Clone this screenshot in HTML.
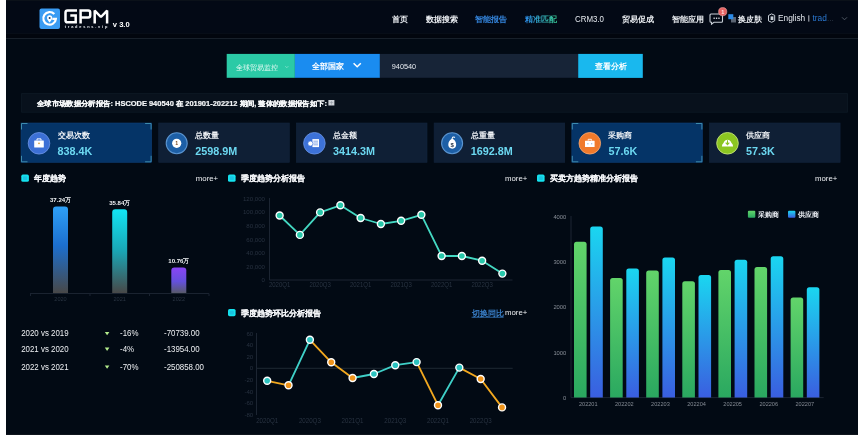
<!DOCTYPE html>
<html><head><meta charset="utf-8"><style>
html,body{margin:0;padding:0;background:#ffffff;width:863px;height:435px;overflow:hidden;font-family:"Liberation Sans", sans-serif;}
#app{position:absolute;left:6px;top:0;width:852px;height:435px;background:#020a14;}
#hdr{position:absolute;left:6px;top:0;width:852px;height:38px;background:linear-gradient(#0b1119 0,#0b1119 1px,#030915 1px,#030915 33px,#070d17 33px,#070d17 34px,#02060e 34px);border-bottom:1px solid #18202a;}
#bl{position:absolute;left:6px;top:434px;width:852px;height:1px;background:#0f151d;}
svg{position:absolute;left:0;top:0;will-change:transform;}
svg text{font-family:"Liberation Sans", sans-serif;}
</style></head><body>
<div id="app"></div><div id="hdr"></div><div id="bl"></div>
<svg width="863" height="435" viewBox="0 0 863 435">
<defs>
<linearGradient id="gnav" x1="0" y1="0" x2="1" y2="0"><stop offset="0" stop-color="#2a86e6"/><stop offset="1" stop-color="#36c48c"/></linearGradient>
<linearGradient id="gb1" x1="0" y1="0" x2="0" y2="1"><stop offset="0" stop-color="#2ea0f6"/><stop offset="0.45" stop-color="#1c6fcf"/><stop offset="1" stop-color="#484848"/></linearGradient>
<linearGradient id="gb2" x1="0" y1="0" x2="0" y2="1"><stop offset="0" stop-color="#12e6f4"/><stop offset="0.5" stop-color="#1aa5b4"/><stop offset="1" stop-color="#484848"/></linearGradient>
<linearGradient id="gb3" x1="0" y1="0" x2="0" y2="1"><stop offset="0" stop-color="#8a44f6"/><stop offset="0.55" stop-color="#6450dc"/><stop offset="1" stop-color="#585a6a"/></linearGradient>
<linearGradient id="gg" x1="0" y1="0" x2="0" y2="1"><stop offset="0" stop-color="#62d46a"/><stop offset="1" stop-color="#2aa860"/></linearGradient>
<linearGradient id="gbl" x1="0" y1="0" x2="0" y2="1"><stop offset="0" stop-color="#1ad6f0"/><stop offset="1" stop-color="#3a5ee0"/></linearGradient>
</defs>
<rect x="39.5" y="8.5" width="20.5" height="20.5" rx="2" fill="#3a9cf3"/><path d="M54.3 14.1 A6.3 6.3 0 1 0 55.9 18.9 H52.3" fill="none" stroke="#fff" stroke-width="2.2"/><path d="M49.6 15.3 a2.6 2.6 0 0 1 2.6 2.6 c0 1.6 -1.6 3 -2.6 4.6 c-1 -1.6 -2.6 -3 -2.6 -4.6 a2.6 2.6 0 0 1 2.6 -2.6 z" fill="#fff"/><circle cx="49.6" cy="17.9" r="1" fill="#1d3f66"/><g fill="none" stroke="#ffffff" stroke-width="2.5"><path d="M77 10.6 H67.6 Q65.5 10.6 65.5 12.7 V20.2 Q65.5 22.3 67.6 22.3 H75.7 V15.4 H70.3"/><path d="M80.6 23.5 V10.6 H88.2 Q90.2 10.6 90.2 12.6 V15.5 Q90.2 17.5 88.2 17.5 H80.6"/><path d="M94.7 23.5 V10.6 L100.9 17 L107.1 10.6 V23.5" stroke-linejoin="bevel"/></g><text x="64.8" y="28.4" font-size="3.9" fill="#e8ebef" font-weight="bold" text-anchor="start" textLength="42.5" lengthAdjust="spacing">tradesns.vip</text><text x="112.8" y="27.2" font-size="7.6" fill="#ffffff" font-weight="bold" text-anchor="start" >v 3.0</text><text x="392.3" y="22.4" font-size="8" fill="#eceff3" font-weight="600" text-anchor="start" >首页</text><text x="425.8" y="22.4" font-size="8" fill="#eceff3" font-weight="600" text-anchor="start" >数据搜索</text><text x="475.4" y="22.4" font-size="8" fill="#3587e0" font-weight="600" text-anchor="start" >智能报告</text><text x="525" y="22.4" font-size="8" fill="url(#gnav)" font-weight="600" text-anchor="start" >精准匹配</text><text x="575" y="22.4" font-size="8.2" fill="#e4e8ee" font-weight="normal" text-anchor="start" textLength="29" lengthAdjust="spacingAndGlyphs">CRM3.0</text><text x="622" y="22.4" font-size="8" fill="#eceff3" font-weight="600" text-anchor="start" >贸易促成</text><text x="671.8" y="22.4" font-size="8" fill="#eceff3" font-weight="600" text-anchor="start" >智能应用</text><path d="M711 14 h10.5 a1 1 0 0 1 1 1 v6.3 a1 1 0 0 1 -1 1 h-7.5 l-2.5 1.8 v-1.8 h-0.5 a1 1 0 0 1 -1 -1 v-6.3 a1 1 0 0 1 1 -1 z" fill="none" stroke="#c9d0d8" stroke-width="1.1"/><g fill="#e8ecf0"><rect x="713.5" y="17.6" width="1.3" height="1.3"/><rect x="715.9" y="17.6" width="1.3" height="1.3"/><rect x="718.3" y="17.6" width="1.3" height="1.3"/></g><circle cx="722.7" cy="11.7" r="4.1" fill="#e56464" stroke="#f0a6a6" stroke-width="0.6"/><text x="722.7" y="13.8" font-size="5.5" fill="#ffe0e0" font-weight="bold" text-anchor="middle" >1</text><rect x="731" y="17" width="5" height="5.5" fill="#5b6472"/><rect x="728.3" y="14.2" width="5" height="5" fill="#2d8be6"/><text x="738" y="22.4" font-size="8" fill="#eceff3" font-weight="600" text-anchor="start" >换皮肤</text><path d="M768.5 15.5 l3 -1.6 l3.2 1.4 v5.4 l-3 1.6 l-3.2 -1.4 z" fill="none" stroke="#c9d0d8" stroke-width="1"/><rect x="770.6" y="16.4" width="2.8" height="3.6" fill="#c9d0d8"/><text x="778" y="21.2" font-size="8.3" fill="#e4e8ee" font-weight="normal" text-anchor="start" >English</text><rect x="808.3" y="15.3" width="1" height="6.3" fill="#b9bec6"/><text x="812.5" y="21.2" font-size="8.3" fill="#2b79d2" font-weight="normal" text-anchor="start" >trad</text><text x="827" y="21.2" font-size="8.3" fill="#2a3340" font-weight="normal" text-anchor="start" >...</text><path d="M842 17.3 l2.5 2.5 l2.5 -2.5" fill="none" stroke="#59626e" stroke-width="0.9"/><rect x="226.7" y="53.9" width="68.2" height="23.9" fill="#2bcaa6"/><text x="235.7" y="69.5" font-size="7.2" fill="#e9fbf6" font-weight="normal" text-anchor="start" >全球贸易监控</text><path d="M285.3 66.2 l1.5 1.5 l1.5 -1.5" fill="none" stroke="#9ae8d6" stroke-width="0.7"/><rect x="294.9" y="53.9" width="85" height="23.9" fill="#1a8cf0"/><text x="311.7" y="68.6" font-size="8" fill="#ffffff" font-weight="bold" text-anchor="start" >全部国家</text><path d="M353.6 63.2 l3.6 3.6 l3.6 -3.6" fill="none" stroke="#ffffff" stroke-width="1.5"/><rect x="379.9" y="53.9" width="198.3" height="23.9" fill="#172437"/><text x="391.8" y="69.3" font-size="7.3" fill="#e6eaf0" font-weight="normal" text-anchor="start" >940540</text><rect x="578.2" y="53.9" width="64.6" height="24" fill="#19b8ee"/><text x="610.5" y="68.9" font-size="7.8" fill="#ffffff" font-weight="bold" text-anchor="middle" >查看分析</text><rect x="21.6" y="93.6" width="826" height="18.6" fill="#08111c" stroke="#0e1925" stroke-width="0.8"/><text x="37" y="105.8" font-size="7.1" fill="#f4f6f8" font-weight="bold" text-anchor="start" textLength="290" lengthAdjust="spacingAndGlyphs" stroke="#f4f6f8" stroke-width="0.22">全球市场数据分析报告: HSCODE 940540 在 201901-202212 期间, 整体的数据报告如下: </text><rect x="328.4" y="100" width="6" height="5.5" fill="#cdd2d8"/><g fill="#8a929c"><rect x="329.8" y="102.4" width="3.4" height="0.5"/><rect x="331.2" y="101" width="0.5" height="3.6"/></g><rect x="21" y="123" width="130.6" height="39.3" fill="#053467" stroke="#0e4078" stroke-width="0.6"/><path d="M21.5 129.5 V123.5 H27.5" fill="none" stroke="#3f8fb2" stroke-width="0.95"/><path d="M151.1 129.5 V123.5 H145.1" fill="none" stroke="#3f8fb2" stroke-width="0.95"/><path d="M21.5 155.8 V161.8 H27.5" fill="none" stroke="#3f8fb2" stroke-width="0.95"/><path d="M151.1 155.8 V161.8 H145.1" fill="none" stroke="#3f8fb2" stroke-width="0.95"/><text x="57.6" y="137.6" font-size="8" fill="#eef1f5" font-weight="600" text-anchor="start" >交易次数</text><text x="57.6" y="154.7" font-size="10.8" fill="#6cd8f1" font-weight="bold" text-anchor="start" >838.4K</text><rect x="158.7" y="123" width="130.6" height="39.3" fill="#0f1f35" stroke="#13253c" stroke-width="0.6"/><text x="195.29999999999998" y="137.6" font-size="8" fill="#eef1f5" font-weight="600" text-anchor="start" >总数量</text><text x="195.29999999999998" y="154.7" font-size="10.8" fill="#6cd8f1" font-weight="bold" text-anchor="start" >2598.9M</text><rect x="296.4" y="123" width="130.6" height="39.3" fill="#0f1f35" stroke="#13253c" stroke-width="0.6"/><text x="333.0" y="137.6" font-size="8" fill="#eef1f5" font-weight="600" text-anchor="start" >总金额</text><text x="333.0" y="154.7" font-size="10.8" fill="#6cd8f1" font-weight="bold" text-anchor="start" >3414.3M</text><rect x="434.1" y="123" width="130.6" height="39.3" fill="#0f1f35" stroke="#13253c" stroke-width="0.6"/><text x="470.70000000000005" y="137.6" font-size="8" fill="#eef1f5" font-weight="600" text-anchor="start" >总重量</text><text x="470.70000000000005" y="154.7" font-size="10.8" fill="#6cd8f1" font-weight="bold" text-anchor="start" >1692.8M</text><rect x="571.8" y="123" width="130.6" height="39.3" fill="#053467" stroke="#0e4078" stroke-width="0.6"/><path d="M572.3 129.5 V123.5 H578.3" fill="none" stroke="#3f8fb2" stroke-width="0.95"/><path d="M701.9 129.5 V123.5 H695.9" fill="none" stroke="#3f8fb2" stroke-width="0.95"/><path d="M572.3 155.8 V161.8 H578.3" fill="none" stroke="#3f8fb2" stroke-width="0.95"/><path d="M701.9 155.8 V161.8 H695.9" fill="none" stroke="#3f8fb2" stroke-width="0.95"/><text x="608.4" y="137.6" font-size="8" fill="#eef1f5" font-weight="600" text-anchor="start" >采购商</text><text x="608.4" y="154.7" font-size="10.8" fill="#6cd8f1" font-weight="bold" text-anchor="start" >57.6K</text><rect x="709.5" y="123" width="130.6" height="39.3" fill="#0f1f35" stroke="#13253c" stroke-width="0.6"/><text x="746.1" y="137.6" font-size="8" fill="#eef1f5" font-weight="600" text-anchor="start" >供应商</text><text x="746.1" y="154.7" font-size="10.8" fill="#6cd8f1" font-weight="bold" text-anchor="start" >57.3K</text><circle cx="39" cy="143.3" r="10.8" fill="#3c70d6" stroke="#6f96e6" stroke-width="0.8"/><rect x="34.2" y="140.5" width="9.6" height="7" fill="#fff" rx="0.5"/><path d="M37 140.5 v-1.6 h4 v1.6" fill="none" stroke="#fff" stroke-width="1"/><circle cx="39" cy="143.3" r="0.9" fill="#d8a040"/><circle cx="176.7" cy="143.3" r="10.5" fill="#1d5fa6" stroke="#5a94d0" stroke-width="1.1"/><circle cx="176.7" cy="143.3" r="4.6" fill="#fff"/><text x="176.7" y="145.20000000000002" font-size="5.2" font-weight="bold" fill="#7a4a22" text-anchor="middle">1</text><circle cx="314.4" cy="143.3" r="10.8" fill="#3d72d8" stroke="#6a94e4" stroke-width="0.8"/><rect x="312.4" y="139.10000000000002" width="6.6" height="8" fill="#fff"/><g fill="#3d72d8"><rect x="313.4" y="140.8" width="4.6" height="0.6"/><rect x="313.4" y="142.70000000000002" width="4.6" height="0.6"/><rect x="313.4" y="144.60000000000002" width="4.6" height="0.6"/></g><circle cx="310.4" cy="143.60000000000002" r="2.5" fill="#fff" stroke="#3d72d8" stroke-width="0.6"/><circle cx="452.1" cy="143.3" r="10.5" fill="#1d5fa6" stroke="#5a94d0" stroke-width="1.1"/><path d="M451.5 139.10000000000002 C447.3 141.5 446.90000000000003 148.70000000000002 452.3 148.70000000000002 C457.5 148.70000000000002 457.1 141.5 453.0 139.10000000000002 Z" fill="#fff"/><path d="M451.90000000000003 139.10000000000002 l0.8 -1.8 q1.2 -0.8 2.2 0.2" fill="none" stroke="#fff" stroke-width="1.1"/><text x="452.20000000000005" y="146.60000000000002" font-size="6" font-weight="bold" fill="#1a2a40" text-anchor="middle">$</text><circle cx="589.8" cy="143.3" r="10.8" fill="#f07a2b" stroke="#f6a872" stroke-width="0.8"/><rect x="585.0" y="140.70000000000002" width="9.6" height="6.4" fill="#fff" rx="0.4"/><path d="M588.1999999999999 140.70000000000002 v-1.4 h3.2 v1.4" fill="none" stroke="#fff" stroke-width="0.9"/><g fill="#7a96c0"><rect x="587.4" y="143.3" width="1" height="1"/><rect x="591.1999999999999" y="143.3" width="1" height="1"/></g><circle cx="727.5" cy="143.3" r="10.8" fill="#8cc621" stroke="#c4e27a" stroke-width="0.9"/><path d="M721.9 146.5 Q721.9 144.10000000000002 723.5 142.9 Q724.9 139.70000000000002 727.5 139.70000000000002 Q730.1 139.70000000000002 731.5 142.9 Q733.1 144.10000000000002 733.1 146.5 Z" fill="#fff"/><path d="M727.5 140.3 V144.70000000000002 M725.7 142.70000000000002 L727.5 144.70000000000002 L729.3 142.70000000000002" fill="none" stroke="#8cc621" stroke-width="1.1"/><rect x="21.3" y="174.6" width="7.6" height="7.2" rx="1.6" fill="#14e2ee"/><rect x="23.0" y="176.29999999999998" width="4.2" height="3.8" rx="0.8" fill="#1cb6dc" opacity="0.7"/><text x="33.8" y="181.1" font-size="8" fill="#f2f4f7" font-weight="bold" text-anchor="start" stroke="#f2f4f7" stroke-width="0.15">年度趋势</text><text x="195.8" y="180.89999999999998" font-size="7.8" fill="#eef0f3" font-weight="normal" text-anchor="start" >more+</text><rect x="228" y="174.6" width="7.6" height="7.2" rx="1.6" fill="#14e2ee"/><rect x="229.7" y="176.29999999999998" width="4.2" height="3.8" rx="0.8" fill="#1cb6dc" opacity="0.7"/><text x="240.5" y="181.1" font-size="8" fill="#f2f4f7" font-weight="bold" text-anchor="start" stroke="#f2f4f7" stroke-width="0.15">季度趋势分析报告</text><text x="505" y="180.89999999999998" font-size="7.8" fill="#eef0f3" font-weight="normal" text-anchor="start" >more+</text><rect x="228" y="309.0" width="7.6" height="7.2" rx="1.6" fill="#14e2ee"/><rect x="229.7" y="310.70000000000005" width="4.2" height="3.8" rx="0.8" fill="#1cb6dc" opacity="0.7"/><text x="240.5" y="315.5" font-size="8" fill="#f2f4f7" font-weight="bold" text-anchor="start" stroke="#f2f4f7" stroke-width="0.15">季度趋势环比分析报告</text><text x="505" y="315.3" font-size="7.8" fill="#eef0f3" font-weight="normal" text-anchor="start" >more+</text><text x="471.6" y="315.8" font-size="7.8" fill="#3a80ca" font-weight="600" text-anchor="start" text-decoration="underline">切换同比</text><rect x="537" y="174.6" width="7.6" height="7.2" rx="1.6" fill="#14e2ee"/><rect x="538.7" y="176.29999999999998" width="4.2" height="3.8" rx="0.8" fill="#1cb6dc" opacity="0.7"/><text x="549.5" y="181.1" font-size="8" fill="#f2f4f7" font-weight="bold" text-anchor="start" stroke="#f2f4f7" stroke-width="0.15">买卖方趋势精准分析报告</text><text x="815" y="180.89999999999998" font-size="7.8" fill="#eef0f3" font-weight="normal" text-anchor="start" >more+</text><line x1="30" y1="293.5" x2="209" y2="293.5" stroke="#1a2330" stroke-width="1"/><line x1="30.5" y1="293.5" x2="30.5" y2="296" stroke="#1a2330" stroke-width="1"/><line x1="90" y1="293.5" x2="90" y2="296" stroke="#1a2330" stroke-width="1"/><line x1="149.5" y1="293.5" x2="149.5" y2="296" stroke="#1a2330" stroke-width="1"/><line x1="209" y1="293.5" x2="209" y2="296" stroke="#1a2330" stroke-width="1"/><path d="M53 293 V209.4 a3 3 0 0 1 3 -3 h9 a3 3 0 0 1 3 3 V293 Z" fill="url(#gb1)"/><text x="60.5" y="202.20000000000002" font-size="6.2" fill="#f2f4f6" font-weight="bold" text-anchor="middle" textLength="21" lengthAdjust="spacingAndGlyphs">37.24万</text><text x="60.5" y="301.2" font-size="5.6" fill="#2a3442" font-weight="normal" text-anchor="middle" >2020</text><path d="M112.2 293 V212.3 a3 3 0 0 1 3 -3 h9 a3 3 0 0 1 3 3 V293 Z" fill="url(#gb2)"/><text x="119.7" y="205.10000000000002" font-size="6.2" fill="#f2f4f6" font-weight="bold" text-anchor="middle" textLength="21" lengthAdjust="spacingAndGlyphs">35.84万</text><text x="119.7" y="301.2" font-size="5.6" fill="#2a3442" font-weight="normal" text-anchor="middle" >2021</text><path d="M171.3 293 V270.4 a3 3 0 0 1 3 -3 h9 a3 3 0 0 1 3 3 V293 Z" fill="url(#gb3)"/><text x="178.8" y="263.2" font-size="6.2" fill="#f2f4f6" font-weight="bold" text-anchor="middle" textLength="21" lengthAdjust="spacingAndGlyphs">10.76万</text><text x="178.8" y="301.2" font-size="5.6" fill="#2a3442" font-weight="normal" text-anchor="middle" >2022</text><text transform="translate(21.2 336.2) scale(1 1.25)" font-size="7.9" fill="#eef0f3" font-weight="normal" text-anchor="start" >2020 vs 2019</text><path d="M104.8 331.9 h4.6 l-2.3 3.3 z" fill="#b4ec8c"/><text transform="translate(120 336.2) scale(1 1.25)" font-size="7.9" fill="#eef0f3" font-weight="normal" text-anchor="start" >-16%</text><text transform="translate(164 336.2) scale(1 1.25)" font-size="7.9" fill="#eef0f3" font-weight="normal" text-anchor="start" >-70739.00</text><text transform="translate(21.2 351.9) scale(1 1.25)" font-size="7.9" fill="#eef0f3" font-weight="normal" text-anchor="start" >2021 vs 2020</text><path d="M104.8 347.59999999999997 h4.6 l-2.3 3.3 z" fill="#b4ec8c"/><text transform="translate(120 351.9) scale(1 1.25)" font-size="7.9" fill="#eef0f3" font-weight="normal" text-anchor="start" >-4%</text><text transform="translate(164 351.9) scale(1 1.25)" font-size="7.9" fill="#eef0f3" font-weight="normal" text-anchor="start" >-13954.00</text><text transform="translate(21.2 369.7) scale(1 1.25)" font-size="7.9" fill="#eef0f3" font-weight="normal" text-anchor="start" >2022 vs 2021</text><path d="M104.8 365.4 h4.6 l-2.3 3.3 z" fill="#b4ec8c"/><text transform="translate(120 369.7) scale(1 1.25)" font-size="7.9" fill="#eef0f3" font-weight="normal" text-anchor="start" >-70%</text><text transform="translate(164 369.7) scale(1 1.25)" font-size="7.9" fill="#eef0f3" font-weight="normal" text-anchor="start" >-250858.00</text><line x1="269.5" y1="280" x2="512.5" y2="280" stroke="#1c2532" stroke-width="1"/><line x1="269.5" y1="198" x2="269.5" y2="280" stroke="#1c2532" stroke-width="1"/><text x="265" y="282.1" font-size="6.1" fill="#283240" font-weight="normal" text-anchor="end" >0</text><text x="265" y="268.5666666666667" font-size="6.1" fill="#283240" font-weight="normal" text-anchor="end" >20,000</text><text x="265" y="255.03333333333333" font-size="6.1" fill="#283240" font-weight="normal" text-anchor="end" >40,000</text><text x="265" y="241.5" font-size="6.1" fill="#283240" font-weight="normal" text-anchor="end" >60,000</text><text x="265" y="227.96666666666667" font-size="6.1" fill="#283240" font-weight="normal" text-anchor="end" >80,000</text><text x="265" y="214.43333333333334" font-size="6.1" fill="#283240" font-weight="normal" text-anchor="end" >100,000</text><text x="265" y="200.9" font-size="6.1" fill="#283240" font-weight="normal" text-anchor="end" >120,000</text><text x="279.625" y="287" font-size="6.9" fill="#2a3442" font-weight="normal" text-anchor="middle" textLength="21.5" lengthAdjust="spacingAndGlyphs">2020Q1</text><text x="320.125" y="287" font-size="6.9" fill="#2a3442" font-weight="normal" text-anchor="middle" textLength="21.5" lengthAdjust="spacingAndGlyphs">2020Q3</text><text x="360.625" y="287" font-size="6.9" fill="#2a3442" font-weight="normal" text-anchor="middle" textLength="21.5" lengthAdjust="spacingAndGlyphs">2021Q1</text><text x="401.125" y="287" font-size="6.9" fill="#2a3442" font-weight="normal" text-anchor="middle" textLength="21.5" lengthAdjust="spacingAndGlyphs">2021Q3</text><text x="441.625" y="287" font-size="6.9" fill="#2a3442" font-weight="normal" text-anchor="middle" textLength="21.5" lengthAdjust="spacingAndGlyphs">2022Q1</text><text x="482.125" y="287" font-size="6.9" fill="#2a3442" font-weight="normal" text-anchor="middle" textLength="21.5" lengthAdjust="spacingAndGlyphs">2022Q3</text><polyline points="279.62,215.50 299.88,234.90 320.12,212.40 340.38,205.30 360.62,218.00 380.88,224.00 401.12,220.80 421.38,214.80 441.62,256.00 461.88,256.00 482.12,260.70 502.38,273.60" fill="none" stroke="#44d8c2" stroke-width="1.8" stroke-linejoin="round"/><circle cx="279.62" cy="215.50" r="3.5" fill="#28c8aa" stroke="#ffffff" stroke-width="1.4"/><circle cx="299.88" cy="234.90" r="3.5" fill="#28c8aa" stroke="#ffffff" stroke-width="1.4"/><circle cx="320.12" cy="212.40" r="3.5" fill="#28c8aa" stroke="#ffffff" stroke-width="1.4"/><circle cx="340.38" cy="205.30" r="3.5" fill="#28c8aa" stroke="#ffffff" stroke-width="1.4"/><circle cx="360.62" cy="218.00" r="3.5" fill="#28c8aa" stroke="#ffffff" stroke-width="1.4"/><circle cx="380.88" cy="224.00" r="3.5" fill="#28c8aa" stroke="#ffffff" stroke-width="1.4"/><circle cx="401.12" cy="220.80" r="3.5" fill="#28c8aa" stroke="#ffffff" stroke-width="1.4"/><circle cx="421.38" cy="214.80" r="3.5" fill="#28c8aa" stroke="#ffffff" stroke-width="1.4"/><circle cx="441.62" cy="256.00" r="3.5" fill="#28c8aa" stroke="#ffffff" stroke-width="1.4"/><circle cx="461.88" cy="256.00" r="3.5" fill="#28c8aa" stroke="#ffffff" stroke-width="1.4"/><circle cx="482.12" cy="260.70" r="3.5" fill="#28c8aa" stroke="#ffffff" stroke-width="1.4"/><circle cx="502.38" cy="273.60" r="3.5" fill="#28c8aa" stroke="#ffffff" stroke-width="1.4"/><line x1="256.5" y1="368.3" x2="512.7" y2="368.3" stroke="#1f2833" stroke-width="1"/><line x1="256.5" y1="333" x2="256.5" y2="415" stroke="#1c2532" stroke-width="1"/><text x="253.2" y="335.75000000000006" font-size="6.1" fill="#283240" font-weight="normal" text-anchor="end" >60</text><text x="253.2" y="347.3" font-size="6.1" fill="#283240" font-weight="normal" text-anchor="end" >40</text><text x="253.2" y="358.85" font-size="6.1" fill="#283240" font-weight="normal" text-anchor="end" >20</text><text x="253.2" y="370.40000000000003" font-size="6.1" fill="#283240" font-weight="normal" text-anchor="end" >0</text><text x="253.2" y="381.95000000000005" font-size="6.1" fill="#283240" font-weight="normal" text-anchor="end" >-20</text><text x="253.2" y="393.50000000000006" font-size="6.1" fill="#283240" font-weight="normal" text-anchor="end" >-40</text><text x="253.2" y="405.05" font-size="6.1" fill="#283240" font-weight="normal" text-anchor="end" >-60</text><text x="253.2" y="416.6" font-size="6.1" fill="#283240" font-weight="normal" text-anchor="end" >-80</text><text x="267.175" y="422.5" font-size="6.9" fill="#2a3442" font-weight="normal" text-anchor="middle" textLength="22" lengthAdjust="spacingAndGlyphs">2020Q1</text><text x="309.875" y="422.5" font-size="6.9" fill="#2a3442" font-weight="normal" text-anchor="middle" textLength="22" lengthAdjust="spacingAndGlyphs">2020Q3</text><text x="352.57500000000005" y="422.5" font-size="6.9" fill="#2a3442" font-weight="normal" text-anchor="middle" textLength="22" lengthAdjust="spacingAndGlyphs">2021Q1</text><text x="395.27500000000003" y="422.5" font-size="6.9" fill="#2a3442" font-weight="normal" text-anchor="middle" textLength="22" lengthAdjust="spacingAndGlyphs">2021Q3</text><text x="437.975" y="422.5" font-size="6.9" fill="#2a3442" font-weight="normal" text-anchor="middle" textLength="22" lengthAdjust="spacingAndGlyphs">2022Q1</text><text x="480.67500000000007" y="422.5" font-size="6.9" fill="#2a3442" font-weight="normal" text-anchor="middle" textLength="22" lengthAdjust="spacingAndGlyphs">2022Q3</text><line x1="267.18" y1="380.80" x2="288.52" y2="385.30" stroke="#f2a81f" stroke-width="1.85" stroke-linecap="round"/><line x1="288.52" y1="385.30" x2="309.88" y2="339.80" stroke="#3fd0c8" stroke-width="1.85" stroke-linecap="round"/><line x1="309.88" y1="339.80" x2="331.23" y2="362.30" stroke="#f2a81f" stroke-width="1.85" stroke-linecap="round"/><line x1="331.23" y1="362.30" x2="352.58" y2="378.00" stroke="#f2a81f" stroke-width="1.85" stroke-linecap="round"/><line x1="352.58" y1="378.00" x2="373.93" y2="374.00" stroke="#3fd0c8" stroke-width="1.85" stroke-linecap="round"/><line x1="373.93" y1="374.00" x2="395.28" y2="365.20" stroke="#3fd0c8" stroke-width="1.85" stroke-linecap="round"/><line x1="395.28" y1="365.20" x2="416.62" y2="362.10" stroke="#3fd0c8" stroke-width="1.85" stroke-linecap="round"/><line x1="416.62" y1="362.10" x2="437.98" y2="405.20" stroke="#f2a81f" stroke-width="1.85" stroke-linecap="round"/><line x1="437.98" y1="405.20" x2="459.33" y2="367.60" stroke="#3fd0c8" stroke-width="1.85" stroke-linecap="round"/><line x1="459.33" y1="367.60" x2="480.68" y2="379.00" stroke="#f2a81f" stroke-width="1.85" stroke-linecap="round"/><line x1="480.68" y1="379.00" x2="502.03" y2="407.40" stroke="#f2a81f" stroke-width="1.85" stroke-linecap="round"/><circle cx="267.18" cy="380.80" r="3.5" fill="#2cc3c0" stroke="#ffffff" stroke-width="1.4"/><circle cx="288.52" cy="385.30" r="3.5" fill="#f0941a" stroke="#ffffff" stroke-width="1.4"/><circle cx="309.88" cy="339.80" r="3.5" fill="#2cc3c0" stroke="#ffffff" stroke-width="1.4"/><circle cx="331.23" cy="362.30" r="3.5" fill="#f0941a" stroke="#ffffff" stroke-width="1.4"/><circle cx="352.58" cy="378.00" r="3.5" fill="#f0941a" stroke="#ffffff" stroke-width="1.4"/><circle cx="373.93" cy="374.00" r="3.5" fill="#2cc3c0" stroke="#ffffff" stroke-width="1.4"/><circle cx="395.28" cy="365.20" r="3.5" fill="#2cc3c0" stroke="#ffffff" stroke-width="1.4"/><circle cx="416.62" cy="362.10" r="3.5" fill="#2cc3c0" stroke="#ffffff" stroke-width="1.4"/><circle cx="437.98" cy="405.20" r="3.5" fill="#f0941a" stroke="#ffffff" stroke-width="1.4"/><circle cx="459.33" cy="367.60" r="3.5" fill="#2cc3c0" stroke="#ffffff" stroke-width="1.4"/><circle cx="480.68" cy="379.00" r="3.5" fill="#f0941a" stroke="#ffffff" stroke-width="1.4"/><circle cx="502.03" cy="407.40" r="3.5" fill="#f0941a" stroke="#ffffff" stroke-width="1.4"/><line x1="571" y1="397.6" x2="823.7" y2="397.6" stroke="#1c2532" stroke-width="1"/><line x1="571" y1="216" x2="571" y2="397.6" stroke="#1c2532" stroke-width="1"/><text x="566.3" y="399.6" font-size="5.8" fill="#8a9099" font-weight="normal" text-anchor="end" >0</text><text x="566.3" y="354.5" font-size="5.8" fill="#8a9099" font-weight="normal" text-anchor="end" >1000</text><text x="566.3" y="309.40000000000003" font-size="5.8" fill="#8a9099" font-weight="normal" text-anchor="end" >2000</text><text x="566.3" y="264.3" font-size="5.8" fill="#8a9099" font-weight="normal" text-anchor="end" >3000</text><text x="566.3" y="219.20000000000002" font-size="5.8" fill="#8a9099" font-weight="normal" text-anchor="end" >4000</text><path d="M574.00 397.6 V244.28 a2.5 2.5 0 0 1 2.5 -2.5 h7.60 a2.5 2.5 0 0 1 2.5 2.5 V397.6 Z" fill="url(#gg)"/><path d="M590.20 397.6 V228.99 a2.5 2.5 0 0 1 2.5 -2.5 h7.60 a2.5 2.5 0 0 1 2.5 2.5 V397.6 Z" fill="url(#gbl)"/><text x="588.25" y="405.8" font-size="5.6" fill="#858b94" font-weight="normal" text-anchor="middle" >202201</text><path d="M610.10 397.6 V280.49 a2.5 2.5 0 0 1 2.5 -2.5 h7.60 a2.5 2.5 0 0 1 2.5 2.5 V397.6 Z" fill="url(#gg)"/><path d="M626.30 397.6 V271.11 a2.5 2.5 0 0 1 2.5 -2.5 h7.60 a2.5 2.5 0 0 1 2.5 2.5 V397.6 Z" fill="url(#gbl)"/><text x="624.35" y="405.8" font-size="5.6" fill="#858b94" font-weight="normal" text-anchor="middle" >202202</text><path d="M646.20 397.6 V273.01 a2.5 2.5 0 0 1 2.5 -2.5 h7.60 a2.5 2.5 0 0 1 2.5 2.5 V397.6 Z" fill="url(#gg)"/><path d="M662.40 397.6 V259.93 a2.5 2.5 0 0 1 2.5 -2.5 h7.60 a2.5 2.5 0 0 1 2.5 2.5 V397.6 Z" fill="url(#gbl)"/><text x="660.45" y="405.8" font-size="5.6" fill="#858b94" font-weight="normal" text-anchor="middle" >202203</text><path d="M682.30 397.6 V283.74 a2.5 2.5 0 0 1 2.5 -2.5 h7.60 a2.5 2.5 0 0 1 2.5 2.5 V397.6 Z" fill="url(#gg)"/><path d="M698.50 397.6 V277.52 a2.5 2.5 0 0 1 2.5 -2.5 h7.60 a2.5 2.5 0 0 1 2.5 2.5 V397.6 Z" fill="url(#gbl)"/><text x="696.5500000000001" y="405.8" font-size="5.6" fill="#858b94" font-weight="normal" text-anchor="middle" >202204</text><path d="M718.40 397.6 V272.60 a2.5 2.5 0 0 1 2.5 -2.5 h7.60 a2.5 2.5 0 0 1 2.5 2.5 V397.6 Z" fill="url(#gg)"/><path d="M734.60 397.6 V262.32 a2.5 2.5 0 0 1 2.5 -2.5 h7.60 a2.5 2.5 0 0 1 2.5 2.5 V397.6 Z" fill="url(#gbl)"/><text x="732.6500000000001" y="405.8" font-size="5.6" fill="#858b94" font-weight="normal" text-anchor="middle" >202205</text><path d="M754.50 397.6 V269.54 a2.5 2.5 0 0 1 2.5 -2.5 h7.60 a2.5 2.5 0 0 1 2.5 2.5 V397.6 Z" fill="url(#gg)"/><path d="M770.70 397.6 V258.85 a2.5 2.5 0 0 1 2.5 -2.5 h7.60 a2.5 2.5 0 0 1 2.5 2.5 V397.6 Z" fill="url(#gbl)"/><text x="768.7500000000001" y="405.8" font-size="5.6" fill="#858b94" font-weight="normal" text-anchor="middle" >202206</text><path d="M790.60 397.6 V300.11 a2.5 2.5 0 0 1 2.5 -2.5 h7.60 a2.5 2.5 0 0 1 2.5 2.5 V397.6 Z" fill="url(#gg)"/><path d="M806.80 397.6 V289.79 a2.5 2.5 0 0 1 2.5 -2.5 h7.60 a2.5 2.5 0 0 1 2.5 2.5 V397.6 Z" fill="url(#gbl)"/><text x="804.8500000000001" y="405.8" font-size="5.6" fill="#858b94" font-weight="normal" text-anchor="middle" >202207</text><rect x="747.9" y="210.8" width="7.4" height="7" rx="1" fill="url(#gg)"/><text x="757.8" y="216.6" font-size="7.3" fill="#e6eaf0" font-weight="600" text-anchor="start" >采购商</text><rect x="788" y="210.8" width="7.4" height="7" rx="1" fill="url(#gbl)"/><text x="797.5" y="216.6" font-size="7.3" fill="#e6eaf0" font-weight="600" text-anchor="start" >供应商</text>
</svg>
</body></html>
